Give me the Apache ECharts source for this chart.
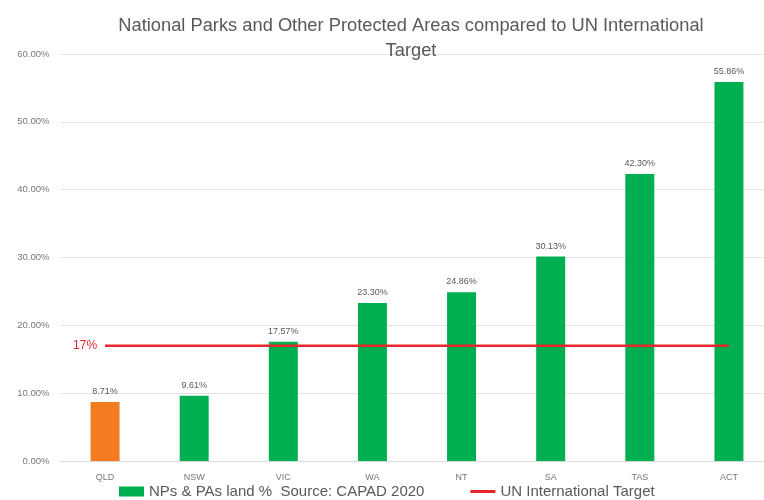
<!DOCTYPE html>
<html>
<head>
<meta charset="utf-8">
<script src="https://cdn.jsdelivr.net/npm/echarts@6/dist/echarts.min.js"></script>
<style>
  html, body { margin: 0; padding: 0; background: #fff; }
  #chart { width: 764px; height: 500px; }
</style>
</head>
<body>
<div id="chart"></div>
<script>
// 数据
var states = ["QLD", "NSW", "VIC", "WA", "NT", "SA", "TAS", "ACT"];
var landPct = [8.71, 9.61, 17.57, 23.30, 24.86, 30.13, 42.30, 55.86];
var target = [17, 17, 17, 17, 17, 17, 17, 17];
var barColors = ["#F47C20", "#00B050", "#00B050", "#00B050", "#00B050", "#00B050", "#00B050", "#00B050"];

var chart = echarts.init(document.getElementById("chart"));
var font = "Liberation Sans, Arial, sans-serif";

var option = {
  animation: false,
  textStyle: { fontFamily: font },
  title: {
    text: "National Parks and Other Protected Areas compared to UN International\nTarget",
    left: 406,
    textAlign: "center",
    top: 8,
    textStyle: { color: "#595959", fontSize: 18.3, fontWeight: "normal", lineHeight: 25, fontFamily: font }
  },
  legend: {
    top: 479,
    left: 114,
    itemGap: 46,
    itemWidth: 25,
    itemHeight: 10,
    textStyle: { color: "#595959", fontSize: 15, fontFamily: font },
    data: [
      { name: "NPs & PAs land %  Source: CAPAD 2020", icon: "rect" },
      { name: "UN International Target", icon: "path://M0,0H25V3H0Z" }
    ]
  },
  grid: {
    top: 54,
    bottom: 39,
    left: 60.5,
    width: 713,
    containLabel: false,
    outerBoundsMode: "none"
  },
  xAxis: {
    type: "category",
    data: states,
    axisLine: { show: true, lineStyle: { color: "#d9d9d9" } },
    axisTick: { show: false },
    axisLabel: { color: "#777", fontSize: 9, margin: 12 }
  },
  yAxis: {
    type: "value",
    min: 0,
    max: 60,
    interval: 10,
    axisLine: { show: false },
    axisTick: { show: false },
    splitLine: { lineStyle: { color: "#e4e4e4" } },
    axisLabel: {
      color: "#777",
      fontSize: 9.5,
      margin: 11,
      formatter: function (v) { return v.toFixed(2) + "%"; }
    }
  },
  series: [
    {
      name: "NPs & PAs land %  Source: CAPAD 2020",
      type: "bar",
      barWidth: 29,
      itemStyle: { color: "#00B050" },
      data: landPct.map(function (v, i) {
        return { value: v, itemStyle: { color: barColors[i] } };
      }),
      label: {
        show: true,
        position: "top",
        distance: 6,
        color: "#595959",
        fontSize: 9,
        formatter: function (p) { return p.value.toFixed(2) + "%"; }
      }
    },
    {
      name: "UN International Target",
      type: "line",
      symbol: "circle",
      symbolSize: 0,
      showSymbol: true,
      z: 5,
      lineStyle: { color: "#E8262D", width: 2.5 },
      itemStyle: { color: "#E8262D" },
      data: target.map(function (v, i) {
        if (i === 0) {
          return {
            value: v,
            label: {
              show: true,
              position: "left",
              distance: 8,
              color: "#E8262D",
              fontSize: 12,
              formatter: "17%"
            }
          };
        }
        return v;
      })
    }
  ]
};

chart.setOption(option);
</script>
</body>
</html>
